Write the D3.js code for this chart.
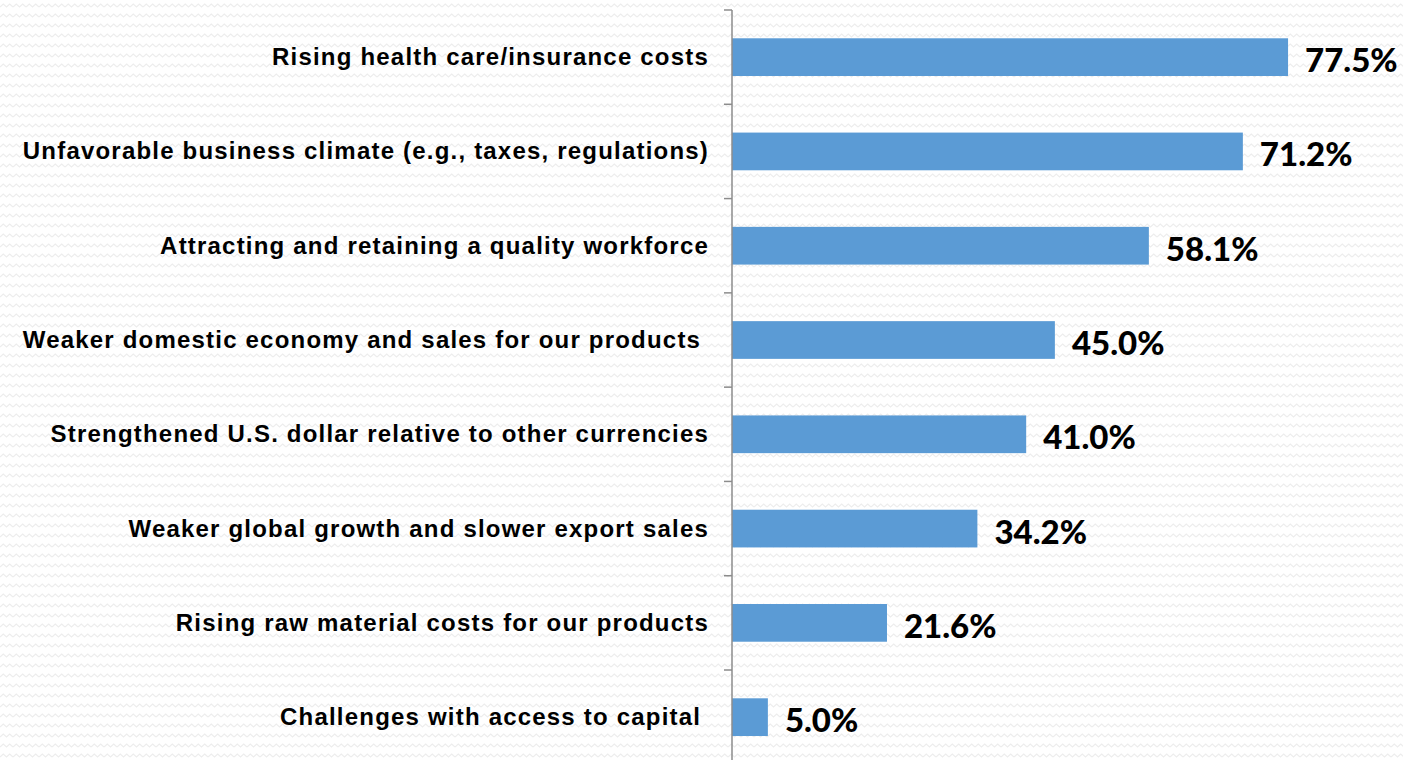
<!doctype html>
<html>
<head>
<meta charset="utf-8"/>
<title>Concerns</title>
<script src="https://d3js.org/d3.v7.min.js"></script>
<style>
  body { margin: 0; background: #fff; }
  svg { display: block; }
  .cat { font-family: "Liberation Sans", Arial, sans-serif; font-weight: bold; font-size: 24px; letter-spacing: 1.2px; white-space: pre; }
  .val { font-family: Lato, "Open Sans", sans-serif; font-weight: 900; font-size: 33px; }
</style>
</head>
<body>
<script>
// categories (top to bottom) and their shares in percent
const categories = [
  "Rising health care/insurance costs",
  "Unfavorable business climate (e.g., taxes, regulations)",
  "Attracting and retaining a quality workforce",
  "Weaker domestic economy and sales for our products ",
  "Strengthened U.S. dollar relative to other currencies",
  "Weaker global growth and slower export sales",
  "Rising raw material costs for our products",
  "Challenges with access to capital "
];
const values = [77.5, 71.2, 58.1, 45.0, 41.0, 34.2, 21.6, 5.0];

const W = 1403, H = 760;
const axisX = 732;

const svg = d3.select('body').append('svg').attr('width', W).attr('height', H);

// faint zigzag background
const pat = svg.append('defs').append('pattern')
  .attr('id', 'zig').attr('patternUnits', 'userSpaceOnUse')
  .attr('width', 13).attr('height', 10);
pat.append('path')
  .attr('d', 'M0,7 L3.25,4 L6.5,7 L9.75,4 L13,7')
  .attr('fill', 'none').attr('stroke', '#ededed').attr('stroke-width', 1.2);
svg.append('rect').attr('width', W).attr('height', H).attr('fill', 'url(#zig)');

const y = d3.scaleBand().domain(categories).range([10, 764.3]).padding(0);
const x = d3.scaleLinear().domain([0, 80]).range([axisX, axisX + 574]);

const barH = y.bandwidth() * 0.4;

svg.selectAll('.bar')
  .data(values)
  .enter().append('rect')
  .attr('class', 'bar')
  .attr('x', x(0))
  .attr('y', (d, i) => y(categories[i]) + (y.bandwidth() - barH) / 2)
  .attr('width', d => x(d) - x(0))
  .attr('height', barH)
  .attr('fill', '#5b9bd5');

// vertical axis with tick marks between categories
const ticks = categories.map(c => y(c)).concat([y.range()[1]]);
svg.append('line')
  .attr('x1', axisX).attr('x2', axisX)
  .attr('y1', 10).attr('y2', H)
  .attr('stroke', '#8c8c8c').attr('stroke-width', 1.5);
svg.selectAll('.tick')
  .data(ticks)
  .enter().append('line')
  .attr('class', 'tick')
  .attr('x1', axisX - 8).attr('x2', axisX)
  .attr('y1', d => d).attr('y2', d => d)
  .attr('stroke', '#8c8c8c').attr('stroke-width', 1.5);

svg.selectAll('.cat')
  .data(categories)
  .enter().append('text')
  .attr('class', 'cat')
  .attr('x', 709)
  .attr('y', d => y(d) + y.bandwidth() / 2 + 8)
  .attr('text-anchor', 'end')
  .text(d => d);

svg.selectAll('.val')
  .data(values)
  .enter().append('text')
  .attr('class', 'val')
  .attr('x', d => x(d) + 17)
  .attr('y', (d, i) => y(categories[i]) + y.bandwidth() / 2 + 15)
  .text(d => d.toFixed(1) + '%');
</script>
</body>
</html>
